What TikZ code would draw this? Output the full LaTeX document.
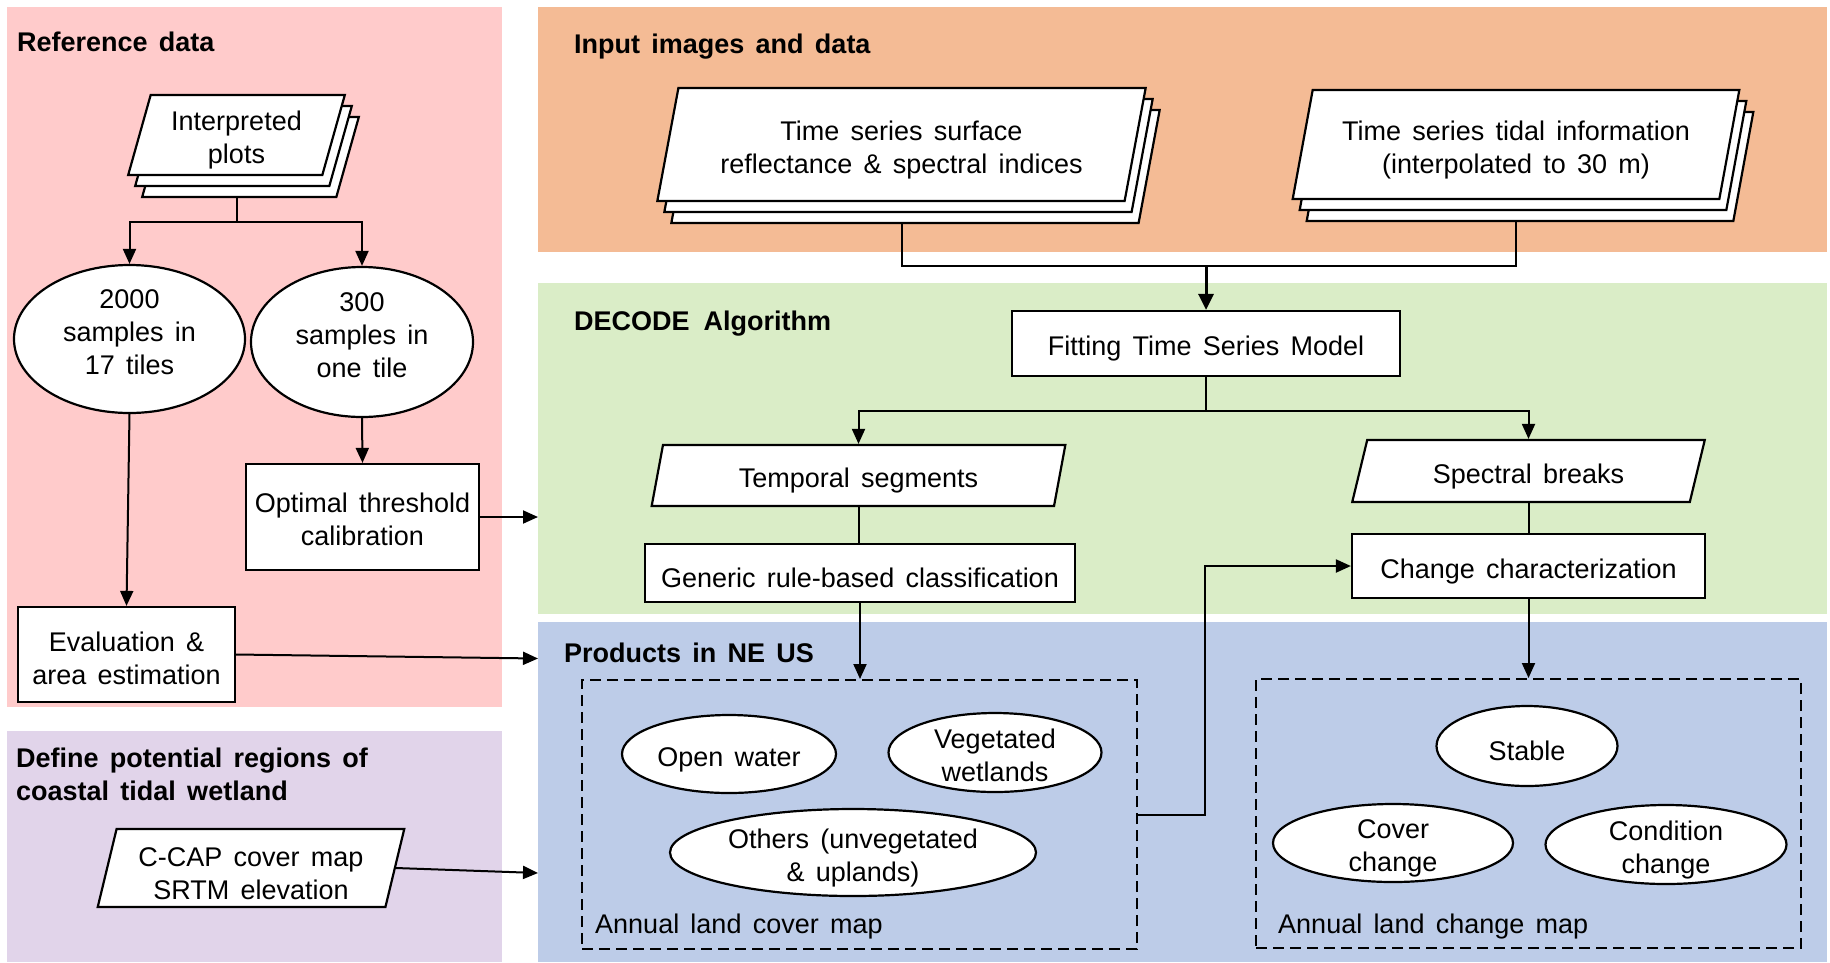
\documentclass[tikz,border=0pt]{standalone}
\usepackage{fontspec}
\setmainfont{Liberation Sans}[WordSpace=1.5]
\usetikzlibrary{shapes.geometric,arrows.meta,shadows,calc}
\definecolor{pinkbg}{HTML}{FFCBCB}
\definecolor{orangebg}{HTML}{F4BB95}
\definecolor{greenbg}{HTML}{DAEDC7}
\definecolor{bluebg}{HTML}{BDCCE8}
\definecolor{purplebg}{HTML}{E1D4EA}
\pgfdeclarelayer{panels}
\pgfdeclarelayer{links}
\pgfsetlayers{panels,links,main}
% invisible strut that lowers the first line of a multi-line label
\newcommand\padtop[1][30pt]{\rule{0pt}{#1}}
\tikzset{
  body/.style={font=\fontsize{27}{33}\selectfont, align=center,
    execute at begin node={\rule{0pt}{30pt}}},
  lifted/.style={execute at begin node={}, execute at end node={\rule[-14pt]{0pt}{14pt}}},
  headline/.style={font=\fontsize{27}{33}\selectfont\bfseries, inner sep=0pt, anchor=base west},
  panel/.style={rectangle, draw=none, inner sep=0pt, anchor=north west},
  procbox/.style={body, rectangle, draw, line width=2.2pt, fill=white, inner sep=0pt},
  oval/.style={body, ellipse, draw, line width=2.2pt, fill=white, inner sep=-10pt},
  datapara/.style={body, trapezium, trapezium left angle=76, trapezium right angle=104,
    trapezium stretches=true, draw, line width=2.2pt, fill=white, inner sep=0pt},
  stackpara/.style={datapara, double copy shadow={shadow xshift=7pt, shadow yshift=-11pt,
    fill=white, draw=black, line width=2.2pt}},
  mapbox/.style={rectangle, draw, line width=2pt, dash pattern=on 11pt off 6pt, inner sep=0pt},
  link/.style={line width=2pt},
  arr/.style={link, -{Triangle[length=15pt,width=13pt]}},
}
\begin{document}
\begin{tikzpicture}[x=1pt, y=-1pt]
\useasboundingbox (0,0) rectangle (1830,962);

% background panels
\begin{pgfonlayer}{panels}
\node[panel, fill=pinkbg, minimum width=495pt, minimum height=700pt] (pref) at (7,7) {};
\node[panel, fill=purplebg, minimum width=495pt, minimum height=231pt] (pdef) at (7,731) {};
\node[panel, fill=orangebg, minimum width=1289pt, minimum height=245pt] (pinp) at (538,7) {};
\node[panel, fill=greenbg, minimum width=1289pt, minimum height=331pt] (palg) at (538,283) {};
\node[panel, fill=bluebg, minimum width=1289pt, minimum height=340pt] (pprod) at (538,622) {};
\end{pgfonlayer}

% panel headings
\node[headline] (tref) at (17,51) {Reference data};
\node[headline] (tinp) at (574,53) {Input images and data};
\node[headline] (talg) at (574,330) {DECODE\hspace{14pt}Algorithm};
\node[headline] (tprod) at (564,662) {Products in NE US};
\node[headline, anchor=north west, align=left] (tdef) at (16,748) {Define potential regions of\\coastal tidal wetland};

% reference data
\node[stackpara, minimum width=217pt, minimum height=80pt] (plots) at (236.5,135) {\padtop Interpreted\\plots};
\node[oval, lifted, minimum width=231pt, minimum height=148pt] (s2000) at (129.5,339) {2000\\samples in\\17 tiles};
\node[oval, lifted, minimum width=222pt, minimum height=150pt] (s300) at (362,342) {300\\samples in\\one tile};
\node[procbox, minimum width=233pt, minimum height=106pt] (calib) at (362.5,517) {\padtop[25pt]Optimal threshold\\calibration};
\node[procbox, minimum width=217pt, minimum height=95pt] (evalu) at (126.5,654.5) {\padtop[28pt]Evaluation \&\\area estimation};

% potential regions
\node[datapara, minimum width=307pt, minimum height=78pt] (ccap) at (251,868) {\padtop C-CAP cover map\\SRTM elevation};

% inputs
\node[stackpara, minimum width=489pt, minimum height=113pt] (surf) at (901.5,144.5) {\padtop Time series surface\\reflectance \& spectral indices};
\node[stackpara, minimum width=448pt, minimum height=109pt] (tide) at (1516,144.5) {\padtop Time series tidal information\\(interpolated to 30 m)};

% algorithm
\node[procbox, minimum width=388pt, minimum height=65pt] (fitm) at (1206,343.5) {Fitting Time Series Model};
\node[datapara, trapezium left angle=79, trapezium right angle=101, minimum width=415pt, minimum height=61pt] (tseg) at (858.5,475.5) {Temporal segments};
\node[datapara, minimum width=353pt, minimum height=62pt] (sbrk) at (1528.5,471) {Spectral breaks};
\node[procbox, minimum width=430pt, minimum height=58pt] (rules) at (860,573) {Generic rule-based classification};
\node[procbox, minimum width=353pt, minimum height=64pt] (chg) at (1528.5,566) {Change characterization};

% products
\node[mapbox, minimum width=555pt, minimum height=269pt] (lcmap) at (859.5,814.5) {};
\node[mapbox, minimum width=545pt, minimum height=269pt] (chmap) at (1528.5,813.5) {};
\node[body, anchor=base west, inner sep=0pt] (lclab) at (595,933) {Annual land cover map};
\node[body, anchor=base west, inner sep=0pt] (chlab) at (1278,933) {Annual land change map};
\node[oval, minimum width=214pt, minimum height=78pt] (water) at (729,754) {Open water};
\node[oval, minimum width=213pt, minimum height=79pt] (vwet) at (995,752.5) {\padtop[26pt]Vegetated\\wetlands};
\node[oval, minimum width=366pt, minimum height=87pt] (other) at (853,852.5) {\padtop Others (unvegetated\\\& uplands)};
\node[oval, minimum width=181pt, minimum height=80pt] (stab) at (1527,746) {Stable};
\node[oval, minimum width=240pt, minimum height=78pt] (cchg) at (1393,843) {\padtop Cover\\change};
\node[oval, minimum width=241pt, minimum height=79pt] (kchg) at (1666,844.5) {\padtop Condition\\change};

% connectors
\begin{pgfonlayer}{links}
\draw[link] (plots.center |- plots.south) -- ++(0,46) coordinate (fork);
\draw[arr] (fork) -| (s2000.north);
\draw[arr] (fork) -| (s300.north);
\draw[arr] (s2000.south) -- (evalu.north);
\draw[arr] (s300.south) -- (calib.north);
\draw[arr] (calib.east) -- (calib.east -| palg.west);
\draw[arr] (evalu.east) -- ($(evalu.east -| pprod.west)+(0,4)$);
\draw[arr] (ccap.east) -- ($(ccap.east -| pprod.west)+(0,5)$);
\coordinate (merge) at ($(fitm.north)+(0,-44)$);
\draw[link] (surf.center |- surf.south) |- (merge) -| (tide.center |- tide.south);
\draw[link, line width=3pt, -{Triangle[length=16pt,width=15pt]}] (merge) -- (fitm.north);
\coordinate (split) at ($(fitm.south)+(0,34)$);
\draw[link] (fitm.south) -- (split);
\draw[arr] (split) -| (tseg.center |- tseg.north);
\draw[arr] (split) -| (sbrk.center |- sbrk.north);
\draw[link] (tseg.center |- tseg.south) -- (tseg.center |- rules.north);
\draw[link] (sbrk.center |- sbrk.south) -- (sbrk.center |- chg.north);
\draw[arr] (rules.south) -- (rules.south |- lcmap.north);
\draw[arr] (chg.south) -- (chg.south |- chmap.north);
\draw[arr] (lcmap.east) -- ++(67,0) |- (chg.west);
\end{pgfonlayer}
\end{tikzpicture}
\end{document}
